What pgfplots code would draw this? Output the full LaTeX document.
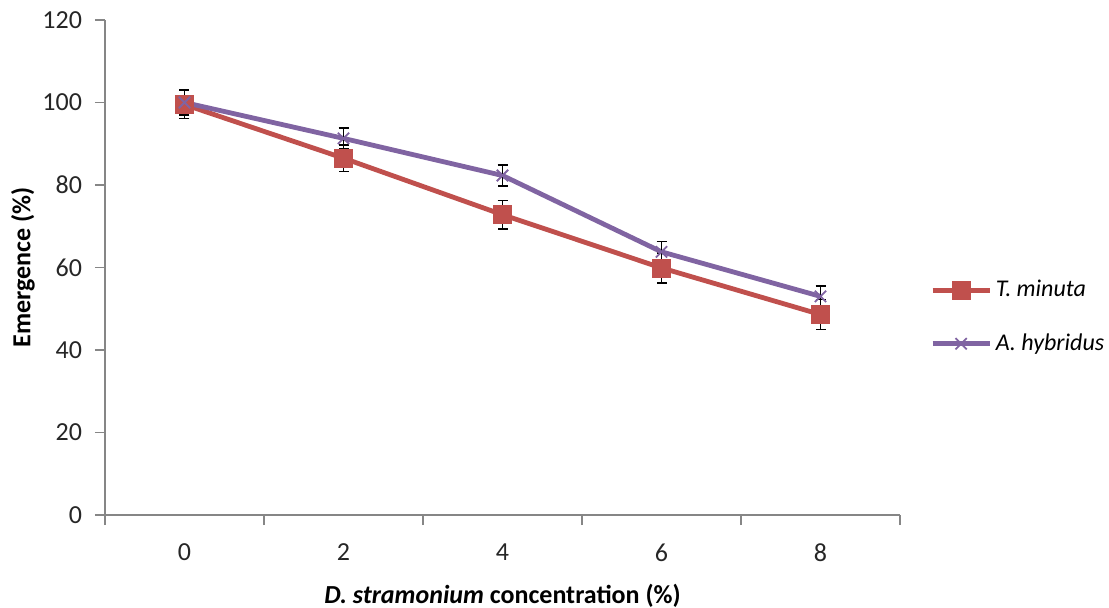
\documentclass[border=0pt]{standalone}
\usepackage{fontspec}
\setmainfont{Carlito}
\usepackage{pgfplots}
\pgfplotsset{compat=1.18}
\definecolor{tmin}{HTML}{C0504D}
\definecolor{ahyb}{HTML}{8064A2}
\definecolor{axgray}{HTML}{868686}
\definecolor{txt}{HTML}{262626}

\begin{document}
\begin{tikzpicture}
\begin{axis}[
    scale only axis,
    width=397.5pt, height=247.5pt,
    xmin=-0.5, xmax=4.5,
    ymin=0, ymax=120,
    ytick={0,20,...,120},
    xtick={0,...,4},
    xticklabels={0,2,4,6,8},
    minor xtick={-0.5,0.5,...,4.5},
    axis x line=bottom, axis y line=left,
    axis line style={-, axgray, line width=0.8pt},
    tick style={axgray, line width=0.8pt},
    x tick style={draw=none},
    minor x tick style={draw=axgray},
    tick align=outside,
    major tick length=5pt, minor tick length=5pt,
    /pgf/number format/assume math mode=true,
    tick label style={font=\fontsize{13}{15}\selectfont, text=txt},
    xticklabel style={yshift=-6pt},
    yticklabel style={xshift=-3pt},
    xlabel={\textbf{\textit{D. stramonium} concentration (\%)}},
    ylabel={\textbf{Emergence (\%)}},
    label style={font=\fontsize{13}{15}\selectfont, text=black},
    xlabel style={yshift=-4pt},
    ylabel style={yshift=-3pt},
    legend style={draw=none, fill=none, at={(1.03,0.40)}, anchor=west,
                  font=\fontsize{12}{14}\selectfont\itshape,
                  row sep=13pt, legend cell align=left,
                  nodes={inner xsep=2pt}},
    legend image code/.code={
        \draw[#1, mark repeat=2, mark phase=2] plot coordinates {(0cm,0cm) (0.5cm,0cm) (1.0cm,0cm)};
    },
    clip=false,
]
\addplot[tmin, line width=2.4pt, mark=square*, mark size=4.5pt,
         mark options={solid, line width=0.4pt, fill=tmin},
         error bars/.cd, y dir=both, y explicit,
         error bar style={black, line width=0.8pt},
         error mark options={black, rotate=90, mark size=2.5pt, line width=0.8pt}]
coordinates {
    (0,99.5) +- (0,3.4)
    (1,86.5) +- (0,3.2)
    (2,72.8) +- (0,3.4)
    (3,59.9) +- (0,3.6)
    (4,48.6) +- (0,3.6)
};
\addlegendentry{T. minuta}
\addplot[ahyb, line width=2.4pt, mark=x, mark size=4pt,
         mark options={solid, line width=0.9pt},
         error bars/.cd, y dir=both, y explicit,
         error bar style={black, line width=0.8pt},
         error mark options={black, rotate=90, mark size=2.5pt, line width=0.8pt}]
coordinates {
    (0,100.0) +- (0,3.0)
    (1,91.3) +- (0,2.5)
    (2,82.3) +- (0,2.6)
    (3,63.8) +- (0,2.5)
    (4,53.0) +- (0,2.5)
};
\addlegendentry{A. hybridus}
\coordinate (axsw) at (rel axis cs:0,0);
\end{axis}
\pgfresetboundingbox
\path (axsw) ++(-52.5pt,-46pt) coordinate (bl);
\path (bl) rectangle ++(554.5pt,303.5pt);
\end{tikzpicture}
\end{document}
